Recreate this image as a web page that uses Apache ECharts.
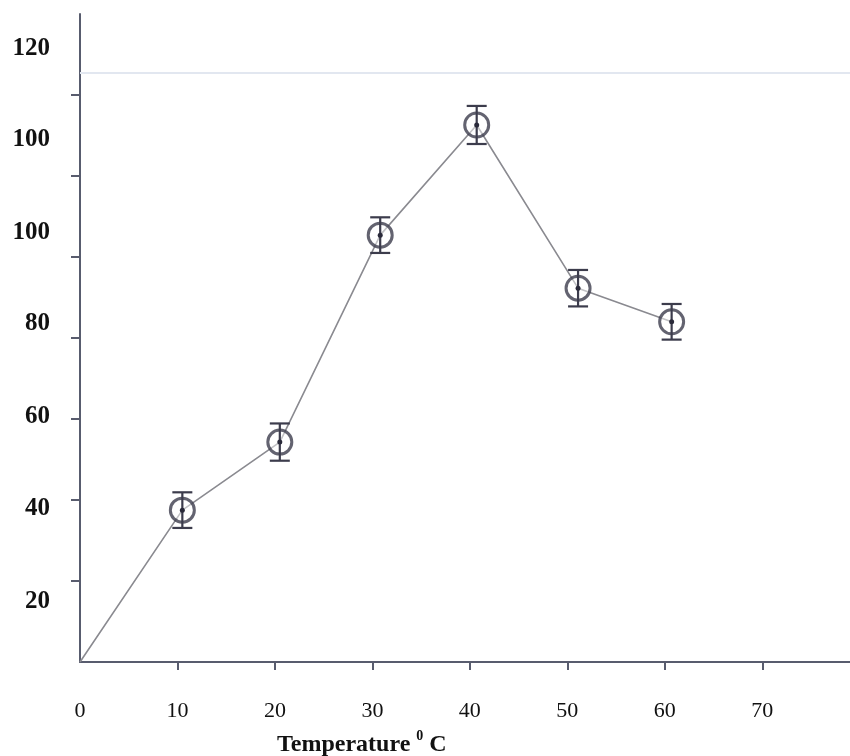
<!DOCTYPE html>
<html>
<head>
<meta charset="utf-8">
<script src="https://cdn.jsdelivr.net/npm/echarts@6/dist/echarts.min.js"></script>
<style>html,body{margin:0;padding:0;background:#fff}#c{width:850px;height:756px}</style>
</head>
<body>
<div id="c"></div>
<script>
// Data
var temperature = [0, 10.5, 20.5, 30.8, 40.7, 51.1, 60.7];
var activity    = [0, 37.5, 54.3, 105.4, 132.6, 92.3, 84.0];
var errorSize   = [0, 4.4, 4.6, 4.4, 4.7, 4.5, 4.4];

var xTickValues = [0, 10, 20, 30, 40, 50, 60, 70];
var xTickLabels = ['0', '10', '20', '30', '40', '50', '60', '70'];
var yTickValues = [0, 20, 40, 60, 80, 100, 120, 140];
var yLabelValues = [15, 38, 60.5, 83.5, 106, 129, 151.5];
var yLabelTexts  = ['20', '40', '60', '80', '100', '100', '120'];
var scanLineValue = 145.5;

var lineData = temperature.map(function (t, i) { return [t, activity[i]]; });
var pointData = lineData.slice(1);
var errData = temperature.slice(1).map(function (t, i) {
  var v = activity[i + 1], e = errorSize[i + 1];
  return [t, v - e, v + e];
});

var chart = echarts.init(document.getElementById('c'), null, {renderer: 'canvas'});
var axisColor = '#585c6e';
chart.setOption({
  animation: false,
  backgroundColor: '#ffffff',
  title: {
    left: 272, top: 724,
    text: '{a|Temperature }{s|0}{a| C}',
    textStyle: {
      rich: {
        a: {fontFamily: 'Liberation Serif', fontWeight: 'bold', fontSize: 24, color: '#111', lineHeight: 28, verticalAlign: 'bottom'},
        s: {fontFamily: 'Liberation Serif', fontWeight: 'bold', fontSize: 14, color: '#111', lineHeight: 28, verticalAlign: 'top'}
      }
    }
  },
  grid: {left: 80, right: 0, top: 14, bottom: 94, containLabel: false},
  xAxis: {
    type: 'value', min: 0, max: 79,
    splitLine: {show: false},
    axisLine: {show: true, lineStyle: {color: axisColor, width: 2}},
    axisTick: {show: true, length: 8, customValues: xTickValues.slice(1), lineStyle: {color: axisColor, width: 2}},
    axisLabel: {
      customValues: xTickValues, margin: 38,
      fontFamily: 'Liberation Serif', fontSize: 22, color: '#111',
      formatter: function (v) { var i = xTickValues.indexOf(v); return i >= 0 ? xTickLabels[i] : ''; }
    }
  },
  yAxis: {
    type: 'value', min: 0, max: 160,
    splitLine: {show: false},
    axisLine: {show: true, lineStyle: {color: axisColor, width: 2}},
    axisTick: {show: true, length: 9, customValues: yTickValues.slice(1), lineStyle: {color: axisColor, width: 2}},
    axisLabel: {
      customValues: yLabelValues, margin: 30,
      fontFamily: 'Liberation Serif', fontWeight: 'bold', fontSize: 25, color: '#111',
      formatter: function (v) {
        for (var i = 0; i < yLabelValues.length; i++) { if (Math.abs(yLabelValues[i] - v) < 1e-6) return yLabelTexts[i]; }
        return '';
      }
    }
  },
  series: [
    {
      type: 'line', data: lineData, showSymbol: false, symbol: 'none',
      lineStyle: {color: '#8a8a90', width: 1.6},
      z: 2,
      markLine: {
        silent: true, symbol: 'none', label: {show: false},
        lineStyle: {color: '#e2e7f0', width: 2, type: 'solid'},
        data: [{yAxis: scanLineValue}]
      }
    },
    {
      type: 'scatter', data: pointData, symbol: 'circle', symbolSize: 24,
      itemStyle: {color: 'rgba(255,255,255,0.6)', borderColor: '#3c3c4c', borderWidth: 3},
      z: 3
    },
    {
      type: 'custom', data: errData, z: 4,
      renderItem: function (params, api) {
        var x = api.value(0);
        var lo = api.coord([x, api.value(1)]);
        var hi = api.coord([x, api.value(2)]);
        var w = 10;
        var st = {stroke: '#3c3c4c', lineWidth: 2.2};
        return {type: 'group', children: [
          {type: 'line', shape: {x1: lo[0], y1: lo[1], x2: hi[0], y2: hi[1]}, style: st},
          {type: 'line', shape: {x1: lo[0] - w, y1: lo[1], x2: lo[0] + w, y2: lo[1]}, style: st},
          {type: 'line', shape: {x1: hi[0] - w, y1: hi[1], x2: hi[0] + w, y2: hi[1]}, style: st},
          {type: 'circle', shape: {cx: (lo[0] + hi[0]) / 2, cy: (lo[1] + hi[1]) / 2, r: 2.5}, style: {fill: '#2a2a3a'}}
        ]};
      }
    }
  ]
});
</script>
</body>
</html>
